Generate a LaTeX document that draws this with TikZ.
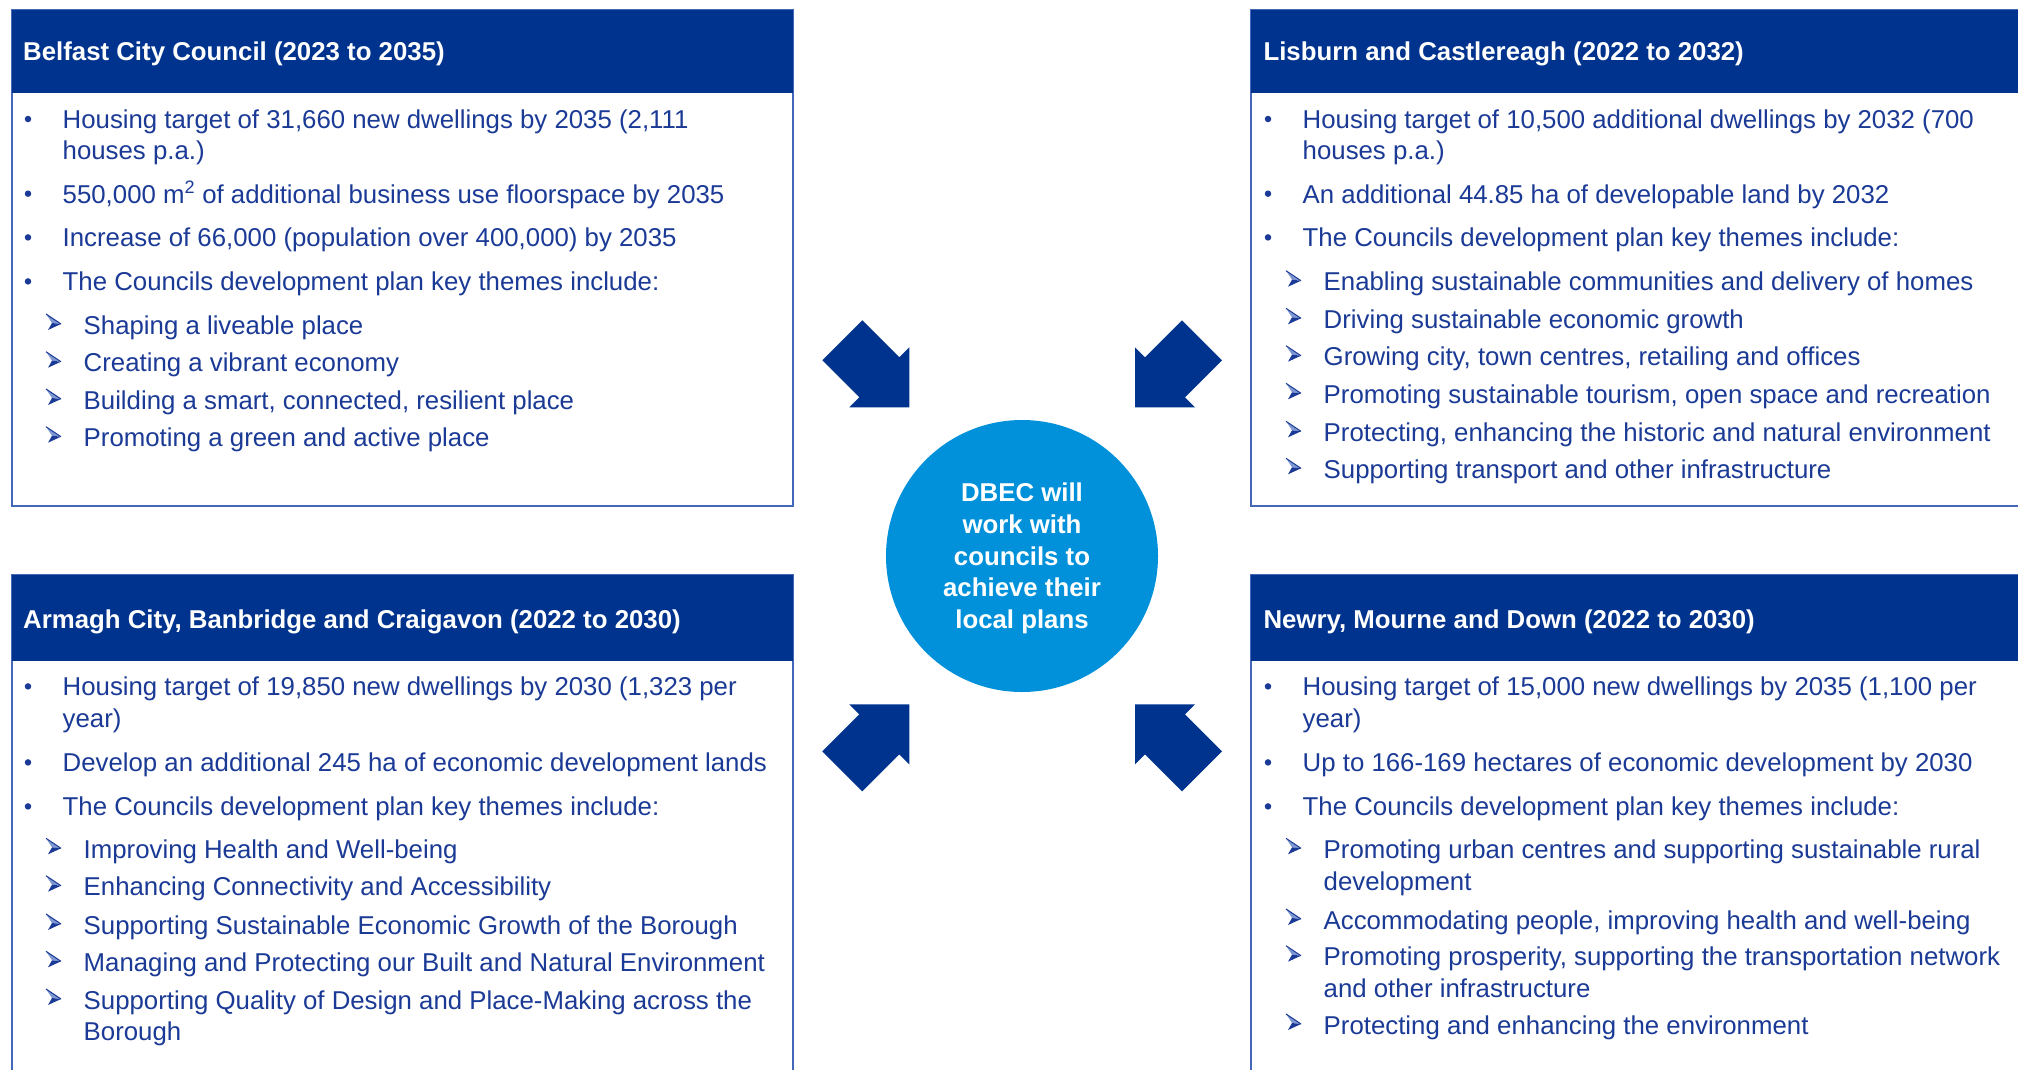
\documentclass[tikz,border=0pt]{standalone}
\usepackage{fontspec}
\setmainfont{Liberation Sans}
\definecolor{navy}{HTML}{00338D}
\definecolor{txt}{HTML}{1A3A96}
\definecolor{edge}{HTML}{4467B8}
\definecolor{circ}{HTML}{0091DA}
\definecolor{arrlight}{HTML}{8098D2}
\tikzset{
  body/.style={anchor=base west, text=txt, font=\fontsize{25.8}{31.5}\selectfont, inner sep=0pt},
  ttl/.style={anchor=base west, text=white, font=\bfseries\fontsize{25.8}{31.5}\selectfont, inner sep=0pt},
  dotm/.style={circle, fill=txt, inner sep=0pt, minimum size=6.5pt},
  hdr/.style={fill=navy, draw=none},
  frame/.style={draw=edge, line width=2pt},
  bigarrow/.style={fill=navy},
  hubtext/.style={text=white, font=\bfseries\fontsize{25.8}{31.8}\selectfont, align=center, inner sep=0pt},
  subarr/.pic={
    \fill[arrlight] (0,-9) -- (15,1) -- (6,0) -- cycle;
    \draw[txt, line width=1pt, line join=round] (0,-9) -- (15,1);
    \fill[txt] (6,0) -- (15,1) -- (2,7) -- cycle;
  }
}
\newcommand\bulitm[4]{%
  \node[dotm] (#1d) at (#2+17,#3-9.3) {};
  \node[body] (#1) at (#2+51.5,#3) {#4};}
\newcommand\contitm[4]{%
  \node[body] (#1) at (#2+51.5,#3) {#4};}
\newcommand\subitm[4]{%
  \pic (#1a) at (#2+35,#3-11) {subarr};
  \node[body] (#1) at (#2+72.5,#3) {#4};}
\newcommand\subcont[4]{%
  \node[body] (#1) at (#2+72.5,#3) {#4};}
\begin{document}
\begin{tikzpicture}[x=1pt,y=-1pt]
\useasboundingbox (0,0) rectangle (2018,1069);
\clip (0,0) rectangle (2018,1069);
\fill[white] (0,0) rectangle (2018,1069);

% ---------- boxes ----------
\draw[frame] (11.5,9.5) rectangle (793,506);
\fill[hdr] (11.5,9.5) rectangle (793,93);
\draw[frame] (1251,9.5) rectangle (2040,506);
\fill[hdr] (1251,9.5) rectangle (2040,93);
\draw[frame] (11.5,575) rectangle (793,1090);
\fill[hdr] (11.5,575) rectangle (793,661);
\draw[frame] (1251,575) rectangle (2040,1090);
\fill[hdr] (1251,575) rectangle (2040,661);

% ---------- Belfast ----------
\node[ttl] (t1) at (23,60.7) {Belfast City Council (2023 to 2035)};
\bulitm{a1}{11}{128.3}{Housing target of 31,660 new dwellings by 2035 (2,111}
\contitm{a1b}{11}{159.8}{houses p.a.)}
\bulitm{a2}{11}{203}{550,000 m\textsuperscript{2} of additional business use floorspace by 2035}
\bulitm{a3}{11}{246.7}{Increase of 66,000 (population over 400,000) by 2035}
\bulitm{a4}{11}{290.7}{The Councils development plan key themes include:}
\subitm{a5}{11}{334}{Shaping a liveable place}
\subitm{a6}{11}{371.7}{Creating a vibrant economy}
\subitm{a7}{11}{409}{Building a smart, connected, resilient place}
\subitm{a8}{11}{446.7}{Promoting a green and active place}

% ---------- Lisburn ----------
\node[ttl] (t2) at (1263.3,60.7) {Lisburn and Castlereagh (2022 to 2032)};
\bulitm{b1}{1251}{128.3}{Housing target of 10,500 additional dwellings by 2032 (700}
\contitm{b1b}{1251}{159.8}{houses p.a.)}
\bulitm{b2}{1251}{203}{An additional 44.85 ha of developable land by 2032}
\bulitm{b3}{1251}{246.7}{The Councils development plan key themes include:}
\subitm{b4}{1251}{290.7}{Enabling sustainable communities and delivery of homes}
\subitm{b5}{1251}{328.3}{Driving sustainable economic growth}
\subitm{b6}{1251}{365.7}{Growing city, town centres, retailing and offices}
\subitm{b7}{1251}{403.3}{Promoting sustainable tourism, open space and recreation}
\subitm{b8}{1251}{441.3}{Protecting, enhancing the historic and natural environment}
\subitm{b9}{1251}{478.3}{Supporting transport and other infrastructure}

% ---------- Armagh ----------
\node[ttl] (t3) at (23,628.3) {Armagh City, Banbridge and Craigavon (2022 to 2030)};
\bulitm{c1}{11}{695.7}{Housing target of 19,850 new dwellings by 2030 (1,323 per}
\contitm{c1b}{11}{727.2}{year)}
\bulitm{c2}{11}{771.7}{Develop an additional 245 ha of economic development lands}
\bulitm{c3}{11}{815.7}{The Councils development plan key themes include:}
\subitm{c4}{11}{858.3}{Improving Health and Well-being}
\subitm{c5}{11}{895.7}{Enhancing Connectivity and Accessibility}
\subitm{c6}{11}{934}{Supporting Sustainable Economic Growth of the Borough}
\subitm{c7}{11}{971.3}{Managing and Protecting our Built and Natural Environment}
\subitm{c8}{11}{1009}{Supporting Quality of Design and Place-Making across the}
\subcont{c8b}{11}{1040.6}{Borough}

% ---------- Newry ----------
\node[ttl] (t4) at (1263.3,628.3) {Newry, Mourne and Down (2022 to 2030)};
\bulitm{d1}{1251}{695.7}{Housing target of 15,000 new dwellings by 2035 (1,100 per}
\contitm{d1b}{1251}{727.2}{year)}
\bulitm{d2}{1251}{771.7}{Up to 166-169 hectares of economic development by 2030}
\bulitm{d3}{1251}{815.7}{The Councils development plan key themes include:}
\subitm{d4}{1251}{858.3}{Promoting urban centres and supporting sustainable rural}
\subcont{d4b}{1251}{890.3}{development}
\subitm{d5}{1251}{929}{Accommodating people, improving health and well-being}
\subitm{d6}{1251}{965.7}{Promoting prosperity, supporting the transportation network}
\subcont{d6b}{1251}{997.5}{and other infrastructure}
\subitm{d7}{1251}{1034}{Protecting and enhancing the environment}

% ---------- hub ----------
\node[circle, fill=circ, minimum size=272pt, inner sep=0pt] (hub) at (1022,556) {};
\node[hubtext] (hubt) at (1022,558.5) {DBEC will\\work with\\councils to\\achieve their\\local plans};

% ---------- arrows ----------
\foreach \sx/\sy/\tx/\ty in {1/1/909.3/407.3, -1/1/1135/407.3, 1/-1/909.3/704.3, -1/-1/1135/704.3}{
  \begin{scope}[shift={(\tx,\ty)}, xscale=\sx, yscale=\sy]
    \fill[bigarrow] (0,0) -- (-60,0) -- (-50,-10) -- (-87,-47) -- (-47,-87) -- (-10,-50) -- (0,-60) -- cycle;
  \end{scope}
}
\end{tikzpicture}
\end{document}
